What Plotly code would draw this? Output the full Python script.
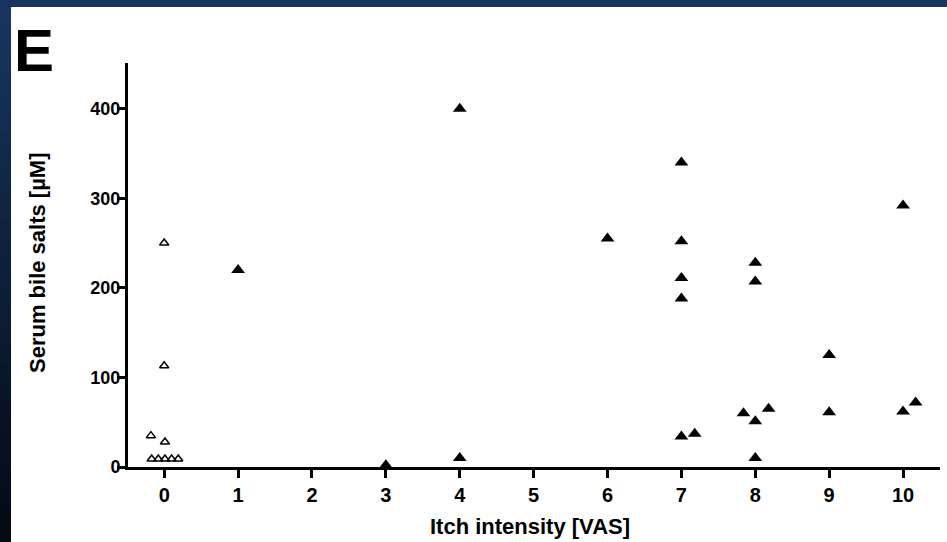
import plotly.graph_objects as go

# ---- data ----
open_x = [-0.18, 0.01, -0.17, -0.08, 0.01, 0.10, 0.19, 0.0, 0.0]
open_y = [35, 28, 9, 9, 9, 9, 9, 250, 113]

filled_x = [1, 3, 4, 4, 6, 7, 7, 7, 7, 7, 7.18, 7.84, 8, 8, 8, 8, 8.18, 9, 9, 10, 10, 10.17]
filled_y = [220, 2, 400, 10, 255, 340, 252, 211, 188, 34, 37, 60, 228, 207, 51, 10, 65, 125, 61, 292, 62, 72]

x_ticks = list(range(0, 11))
y_ticks = [0, 100, 200, 300, 400]

W, H = 947, 542
L, R, T, B = 128, 7, 63, 75
PW, PH = W - L - R, H - T - B


def px(x):
    return (x - L) / PW


def py(y):
    return (H - B - y) / PH


FONT = "Arial, Liberation Sans, Helvetica, sans-serif"

fig = go.Figure()
fig.add_trace(go.Scatter(
    x=open_x, y=open_y, mode="markers",
    marker=dict(symbol="triangle-up-open", size=8, color="black", line=dict(width=1.5, color="black")),
    showlegend=False, hoverinfo="x+y"))
fig.add_trace(go.Scatter(
    x=filled_x, y=filled_y, mode="markers",
    marker=dict(symbol="triangle-up", size=12, color="black", line=dict(width=0)),
    showlegend=False, hoverinfo="x+y"))

shapes = []
# white panel
shapes.append(dict(type="rect", xref="paper", yref="paper", x0=px(11), x1=px(W + 5), y0=py(7), y1=py(H + 5),
                   fillcolor="white", line=dict(width=0), layer="below"))
# left strip gradient
n = 30
c0 = (23, 53, 94)
c1 = (3, 10, 20)
for i in range(n):
    t = i / (n - 1)
    c = tuple(int(round(c0[k] + (c1[k] - c0[k]) * t)) for k in range(3))
    y0 = 7 + (H - 7) * i / n
    y1 = 7 + (H - 7) * (i + 1) / n + 1
    shapes.append(dict(type="rect", xref="paper", yref="paper", x0=px(-2), x1=px(11), y0=py(y0), y1=py(y1),
                       fillcolor="rgb(%d,%d,%d)" % c, line=dict(width=0), layer="below"))

fig.update_layout(
    width=W, height=H,
    margin=dict(l=L, r=R, t=T, b=B),
    paper_bgcolor="rgb(23,53,94)",
    plot_bgcolor="rgba(0,0,0,0)",
    shapes=shapes,
    font=dict(family=FONT, color="black"),
    xaxis=dict(range=[-0.49, 10.5], tickvals=x_ticks, ticktext=["<b>%d</b>" % v for v in x_ticks],
               showgrid=False, zeroline=False, showline=True, linewidth=3, linecolor="black",
               ticks="outside", ticklen=8, tickwidth=3, tickcolor="black",
               tickfont=dict(size=20, family=FONT, color="black"), fixedrange=True),
    yaxis=dict(range=[0, 451], tickvals=y_ticks, ticktext=["<b>%d</b>" % v for v in y_ticks],
               showgrid=False, zeroline=False, showline=True, linewidth=3, linecolor="black",
               ticks="outside", ticklen=8, tickwidth=3, tickcolor="black", ticklabelstandoff=-7,
               tickfont=dict(size=18, family=FONT, color="black"), fixedrange=True),
    annotations=[
        dict(text="<b>E</b>", xref="paper", yref="paper", x=px(12), y=py(51), xanchor="left", yanchor="middle",
             showarrow=False, font=dict(size=60, family=FONT, color="black")),
        dict(text="<b>Serum bile salts [µM]</b>", xref="paper", yref="paper", x=px(37), y=py(263),
             xanchor="center", yanchor="middle", textangle=-90, showarrow=False,
             font=dict(size=22, family=FONT, color="black")),
        dict(text="<b>Itch intensity [VAS]</b>", xref="paper", yref="paper", x=px(530), y=py(526),
             xanchor="center", yanchor="middle", showarrow=False,
             font=dict(size=22, family=FONT, color="black")),
    ],
)

fig.write_html("out.html")
